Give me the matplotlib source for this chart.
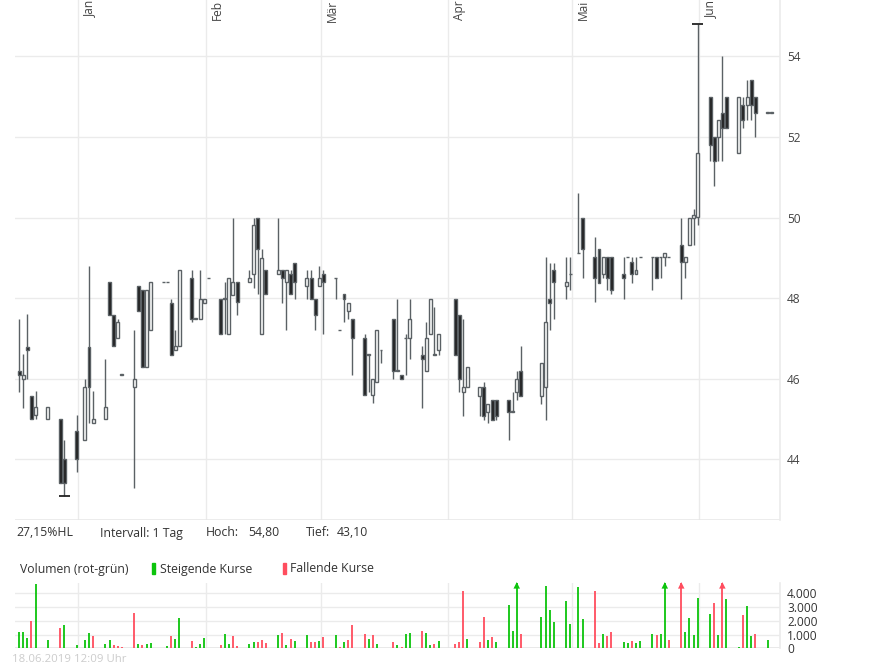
import matplotlib
matplotlib.use("Agg")
import matplotlib.pyplot as plt
from matplotlib.patches import Rectangle
import numpy as np
import pandas as pd

plt.rcParams['font.family'] = ['Open Sans', 'DejaVu Sans']

# Handelstage
dates = ["2018-12-17", "2018-12-18", "2018-12-19", "2018-12-20", "2018-12-21", "2018-12-24",
         "2018-12-27", "2018-12-28", "2018-12-31",
         "2019-01-02", "2019-01-03", "2019-01-04", "2019-01-07", "2019-01-08", "2019-01-09",
         "2019-01-10", "2019-01-11", "2019-01-14", "2019-01-15", "2019-01-16", "2019-01-17",
         "2019-01-18", "2019-01-21", "2019-01-22", "2019-01-23", "2019-01-24", "2019-01-25",
         "2019-01-28", "2019-01-29", "2019-01-30", "2019-01-31",
         "2019-02-01", "2019-02-04", "2019-02-05", "2019-02-06", "2019-02-07", "2019-02-08",
         "2019-02-11", "2019-02-12", "2019-02-13", "2019-02-14", "2019-02-15", "2019-02-18",
         "2019-02-19", "2019-02-20", "2019-02-21", "2019-02-22", "2019-02-25", "2019-02-26",
         "2019-02-27", "2019-02-28",
         "2019-03-01", "2019-03-04", "2019-03-05", "2019-03-06", "2019-03-07", "2019-03-08",
         "2019-03-11", "2019-03-12", "2019-03-13", "2019-03-14", "2019-03-15", "2019-03-18",
         "2019-03-19", "2019-03-20", "2019-03-21", "2019-03-22", "2019-03-25", "2019-03-26",
         "2019-03-27", "2019-03-28", "2019-03-29",
         "2019-04-02", "2019-04-03", "2019-04-04", "2019-04-05", "2019-04-08", "2019-04-09",
         "2019-04-10", "2019-04-11", "2019-04-12", "2019-04-15", "2019-04-16", "2019-04-17",
         "2019-04-18", "2019-04-23", "2019-04-24", "2019-04-25", "2019-04-26", "2019-04-29",
         "2019-04-30",
         "2019-05-02", "2019-05-03", "2019-05-06", "2019-05-07", "2019-05-08", "2019-05-09",
         "2019-05-10", "2019-05-13", "2019-05-14", "2019-05-15", "2019-05-16", "2019-05-17",
         "2019-05-20", "2019-05-21", "2019-05-22", "2019-05-23", "2019-05-24", "2019-05-27",
         "2019-05-28", "2019-05-29", "2019-05-30", "2019-05-31",
         "2019-06-03", "2019-06-04", "2019-06-05", "2019-06-06", "2019-06-07", "2019-06-10",
         "2019-06-11", "2019-06-12", "2019-06-13", "2019-06-14", "2019-06-17", "2019-06-18"]

opens = [46.20, 46.00, 46.79, 45.58, 45.09, 44.99, 44.99, 44.00, 44.69,
         44.49, 46.79, 44.89, 44.99, 48.39, 47.59, 47.00, 46.10, 45.79, 48.29, 48.19, 46.30,
         47.20, 48.39, 48.39, 47.89, 46.70, 46.80, 48.49, 47.49, 47.49, 47.89,
         48.49, 47.99, 47.99, 47.10, 48.07, 48.39, 48.39, 48.59, 49.99, 47.10, 48.69, 48.59,
         48.69, 48.39, 48.59, 48.88, 48.29, 48.49, 47.99, 48.29,
         48.59, 48.49, 47.20, 48.09, 47.69, 47.49, 47.00, 46.60, 45.59, 45.91, 46.70, 47.49,
         46.20, 46.10, 47.00, 47.00, 46.60, 46.20, 47.10, 46.60, 46.70,
         47.99, 47.59, 45.68, 45.79, 45.58, 45.79, 45.18, 45.48, 45.48, 45.48, 45.18, 45.68,
         46.20, 45.58, 45.79, 47.99, 48.69, 48.29, 48.59,
         49.11, 50.00, 49.01, 49.21, 48.59, 49.01, 49.01, 48.59, 49.01, 48.90, 48.59, 49.01,
         49.01, 49.01, 49.01, 49.01, 49.01, 49.32, 48.90, 49.32, 50.00, 50.01,
         53.00, 51.99, 51.99, 52.60, 53.00, 51.60, 52.80, 52.80, 53.41, 53.00, 52.60, 52.60]
highs = [47.49, 46.61, 47.60, 45.58, 45.69, 45.29, 44.99, 44.49, 45.10,
         46.00, 48.80, 45.69, 46.50, 48.39, 47.59, 47.49, 46.10, 47.20, 48.29, 48.19, 48.19,
         48.39, 48.39, 48.39, 47.99, 47.20, 48.69, 48.69, 47.49, 48.69, 47.99,
         48.49, 47.99, 48.39, 48.49, 49.99, 48.39, 48.69, 49.99, 49.99, 49.21, 48.69, 49.99,
         48.69, 48.69, 48.69, 48.88, 48.69, 48.69, 47.99, 48.79,
         48.69, 48.49, 47.20, 48.09, 47.89, 47.49, 47.10, 46.60, 46.00, 47.20, 46.70, 47.49,
         47.99, 46.10, 47.10, 47.99, 46.80, 47.40, 47.99, 47.79, 47.10,
         47.99, 47.59, 47.49, 46.30, 45.79, 45.91, 45.38, 45.48, 45.48, 45.48, 45.68, 46.20,
         46.80, 46.40, 49.02, 48.88, 48.88, 49.02, 49.02,
         50.60, 50.00, 49.51, 49.21, 49.01, 49.01, 49.01, 49.01, 49.01, 49.01, 49.01, 49.01,
         49.01, 49.01, 49.01, 49.11, 49.01, 50.00, 49.01, 50.00, 50.20, 54.80,
         53.00, 51.99, 52.41, 54.00, 53.00, 53.00, 53.00, 53.41, 53.41, 53.00, 52.60, 52.60]
lows = [45.67, 45.28, 46.00, 45.00, 44.99, 44.99, 43.40, 43.10, 43.69,
        44.49, 44.89, 44.89, 44.99, 47.59, 46.80, 47.00, 46.10, 43.29, 47.69, 46.30, 46.30,
        47.20, 48.39, 48.39, 46.60, 46.70, 46.80, 47.40, 47.49, 47.49, 47.89,
        48.49, 47.10, 47.10, 47.10, 48.07, 47.59, 48.39, 48.24, 48.09, 47.10, 48.09, 48.59,
        47.89, 47.20, 48.09, 47.99, 47.99, 47.99, 47.20, 48.29,
        47.10, 47.99, 47.20, 47.40, 47.49, 46.10, 45.59, 45.68, 45.39, 45.91, 46.40, 46.00,
        46.20, 46.00, 46.10, 46.50, 45.28, 46.20, 47.10, 46.60, 46.60,
        46.60, 45.68, 45.08, 45.79, 45.08, 44.97, 44.89, 44.98, 44.98, 44.48, 45.18, 45.48,
        45.58, 45.38, 44.97, 47.20, 47.49, 47.99, 48.19,
        49.11, 48.49, 47.90, 48.38, 48.49, 48.19, 48.09, 47.99, 49.01, 48.38, 48.59, 49.01,
        48.20, 48.49, 48.49, 48.79, 49.01, 47.99, 48.49, 49.32, 49.32, 49.82,
        51.39, 50.79, 51.39, 51.39, 52.22, 51.60, 52.22, 52.41, 52.41, 51.99, 52.60, 52.60]
closes = [46.10, 46.10, 46.71, 45.00, 45.29, 45.29, 43.40, 43.40, 44.00,
          45.79, 45.79, 44.99, 45.29, 47.59, 46.80, 47.40, 46.10, 46.00, 47.69, 46.30, 48.19,
          48.39, 48.39, 48.39, 46.60, 46.80, 48.69, 47.49, 47.49, 47.99, 47.99,
          48.49, 47.10, 47.99, 48.49, 48.39, 47.91, 48.49, 49.81, 49.21, 49.00, 48.09, 48.69,
          48.49, 48.69, 48.09, 48.39, 48.49, 47.99, 47.59, 48.49,
          48.39, 48.49, 47.20, 47.99, 47.89, 47.00, 45.59, 46.60, 46.00, 47.20, 46.70, 46.20,
          46.20, 46.00, 47.00, 47.49, 46.50, 47.00, 47.99, 46.60, 47.10,
          46.60, 46.00, 45.79, 46.30, 45.79, 45.08, 45.38, 44.98, 45.08, 45.18, 45.18, 46.00,
          45.58, 46.40, 47.40, 47.89, 48.39, 48.39, 48.59,
          49.11, 49.21, 48.49, 48.38, 49.01, 48.49, 48.20, 48.49, 49.01, 48.59, 48.70, 49.01,
          49.01, 48.49, 49.01, 49.11, 49.01, 48.90, 49.01, 50.00, 50.05, 51.60,
          51.80, 51.39, 52.41, 52.22, 52.22, 53.00, 52.41, 53.00, 52.80, 52.60, 52.60, 52.60]

volumes = [1160, 1160, 750, 1990, 4700, 610, 1480, 1700, 240,
           610, 1120, 900, 320, 610, 240, 170, 100, 2570, 320, 240, 320,
           390, 50, 170, 900, 680, 2210, 530, 100, 320, 750,
           30, 240, 1040, 320, 900, 170, 320, 460, 460, 610, 390, 970,
           1120, 240, 680, 530, 970, 460, 460, 530,
           820, 970, 100, 460, 610, 1700, 1040, 680, 970, 320, 30, 460,
           240, 100, 1040, 1120, 1260, 1120, 240, 320, 530,
           320, 460, 4170, 680, 460, 2280, 610, 820, 460, 3150, 1260, 5200,
           1040, 2280, 4530, 2790, 1920, 3440, 1770,
           4460, 2130, 4170, 390, 1040, 900, 1190, 460, 390, 530, 390, 530,
           1040, 970, 1040, 5200, 610, 5200, 1190, 2210, 970, 3660,
           2500, 3300, 970, 5200, 3590, 100, 2420, 3080, 900, 1040, 610, 30]
# g = steigend, r = fallend (je Monat)
vol_dir = "".join(["gggrggrgg",
                   "ggrggrrrrgrggggrggrggg",
                   "grggrrggrrrgrgrggrrg",
                   "rgrgrrrgrgrrgrggrggrg",
                   "rrrgrrgrggggrgggggg",
                   "ggrrgrrggrgggrggrrgggg",
                   "grgrggrggrgg"])

month_days = [0, 31, 59, 90, 120, 151]
month_names = ["Jan", "Feb", "Mär", "Apr", "Mai", "Jun"]
price_ticks = [44, 46, 48, 50, 52, 54]
vol_ticks = [0, 1000, 2000, 3000, 4000]
vol_tick_labels = ["0", "1.000", "2.000", "3.000", "4.000"]

W, H = 895, 669
fig = plt.figure(figsize=(W / 100, H / 100), dpi=100)

x = (pd.to_datetime(dates) - pd.Timestamp("2019-01-01")).days.values + 0.6
o = np.array(opens); h = np.array(highs); l = np.array(lows); c = np.array(closes)

grid_c = "#ebebeb"
wick_c = "#5b6165"
xmin, xmax = -15.39, 170.61

# Kurs-Chart
ax = fig.add_axes([15 / W, 1 - 520 / H, 765 / W, 520 / H])
ax.set_xlim(xmin, xmax)
ax.set_ylim(42.494, 55.397)
for d in month_days:
    ax.axvline(d, color=grid_c, lw=1.0, zorder=0)
for p in price_ticks:
    ax.axhline(p, color=grid_c, lw=1.0, zorder=0)
ax.axhline(42.494, color="#e6e6e6", lw=1.8, zorder=0)

ax.vlines(x, l, h, color=wick_c, lw=1, zorder=2)
up = c >= o
body_h = np.where(np.abs(c - o) < 0.01, 0.012, np.abs(c - o))
ax.bar(x[up], body_h[up], bottom=np.minimum(o, c)[up], width=0.72,
       facecolor="white", edgecolor=wick_c, linewidth=1, zorder=3)
ax.bar(x[~up], body_h[~up], bottom=np.minimum(o, c)[~up], width=0.72,
       facecolor="#1c1c1c", edgecolor=wick_c, linewidth=1, zorder=3)

# Hoch / Tief Markierung
ih, il = np.argmax(h), np.argmin(l)
ax.hlines(h[ih], x[ih] - 1.3, x[ih] + 1.3, color="#222222", lw=1.3, zorder=4)
ax.hlines(l[il], x[il] - 1.3, x[il] + 1.3, color="#222222", lw=1.3, zorder=4)

ax.set_xticks([])
ax.set_yticks(price_ticks)
ax.yaxis.tick_right()
ax.tick_params(axis="y", length=0, pad=5, labelsize=8.6, labelcolor="#444444")
for s in ["top", "left", "bottom"]:
    ax.spines[s].set_visible(False)
ax.spines["right"].set_color(grid_c)
ax.spines["right"].set_linewidth(1.2)

for d, name in zip(month_days, month_names):
    ax.annotate(name, xy=(d, 1.0), xycoords=("data", "axes fraction"),
                xytext=(3.3, 0.0), textcoords="offset points", rotation=90,
                rotation_mode="anchor", ha="right", va="top", fontsize=8.6,
                color="#444444", annotation_clip=False)

# Volumen
vtop = 4727
axv = fig.add_axes([15 / W, 1 - 648.3 / H, 765 / W, 65 / H])
axv.set_xlim(xmin, xmax)
axv.set_ylim(0, vtop)
for d in month_days:
    axv.axvline(d, color=grid_c, lw=1.0, zorder=0)
for v in vol_ticks[1:]:
    axv.axhline(v, color=grid_c, lw=1.0, zorder=0)
axv.axhline(0, color="#e2e2e2", lw=1.8, zorder=1)

vols = np.array(volumes)
cols = np.array(["#0cc40c" if k == "g" else "#ff4d5e" for k in vol_dir])
axv.vlines(x, 0, np.minimum(vols, vtop), colors=cols, lw=1.3, zorder=2)
over = vols > vtop
axv.scatter(x[over], np.full(over.sum(), vtop - 150), marker="^", s=22,
            c=cols[over], zorder=3, clip_on=False, linewidths=0)

axv.set_xticks([])
axv.set_yticks(vol_ticks)
axv.set_yticklabels(vol_tick_labels)
axv.yaxis.tick_right()
axv.tick_params(axis="y", length=0, pad=5, labelsize=8.6, labelcolor="#333333")
for s in ["top", "left", "bottom"]:
    axv.spines[s].set_visible(False)
axv.spines["right"].set_color(grid_c)
axv.spines["right"].set_linewidth(1.2)

# Texte
def ftext(px, py, s, **kw):
    fig.text(px / W, 1 - py / H, s, va="baseline", ha="left", fontsize=8.8,
             color="#333333", **kw)

ftext(16, 536.5, "27,15%HL")
ftext(100, 536.5, "Intervall: 1 Tag")
ftext(206, 536.5, "Hoch:")
ftext(248, 536.5, "54,80")
ftext(306, 536.5, "Tief:")
ftext(337, 536.5, "43,10")
ftext(20, 572.5, "Volumen (rot-grün)")
ftext(160, 572.5, "Steigende Kurse")
ftext(290, 572.5, "Fallende Kurse")
fig.add_artist(Rectangle((152 / W, 1 - 574 / H), 3 / W, 11 / H, transform=fig.transFigure,
                         color="#0cc40c"))
fig.add_artist(Rectangle((283 / W, 1 - 574 / H), 3 / W, 11 / H, transform=fig.transFigure,
                         color="#ff4d5e"))
fig.text(12 / W, 1 - 662.5 / H, "18.06.2019 12:09 Uhr", va="baseline", ha="left",
         fontsize=8.2, color="#cccccc", zorder=0)

fig.savefig("out.png", dpi=100)
